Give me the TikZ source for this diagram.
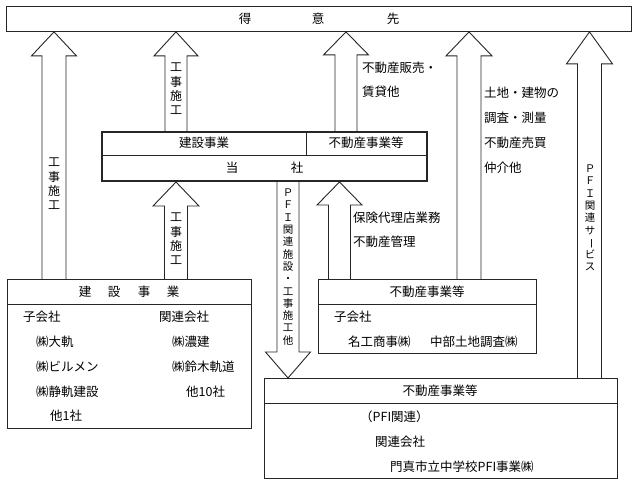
\documentclass[tikz,border=0pt]{standalone}
\usepackage{fontspec}
\setmainfont{Noto Sans CJK JP}
\usepackage{graphicx}
\usetikzlibrary{calc}
\newcommand\UpArr[6]{% xc, lower node, upper node, shaft half, head half, head length
  \draw[arrowshape] let \p1=(#2.north), \p2=(#3.south) in
  ({(#1-#4)*1pt},\y1) -- ({(#1-#4)*1pt},{\y2-#6*1pt}) -- ({(#1-#5)*1pt},{\y2-#6*1pt})
  -- ({#1*1pt},\y2) -- ({(#1+#5)*1pt},{\y2-#6*1pt}) -- ({(#1+#4)*1pt},{\y2-#6*1pt})
  -- ({(#1+#4)*1pt},\y1);}
\newcommand\DnArr[6]{% xc, upper node, lower node, shaft half, head half, head length
  \draw[arrowshape] let \p1=(#2.south), \p2=(#3.north) in
  ({(#1-#4)*1pt},\y1) -- ({(#1-#4)*1pt},{\y2+#6*1pt}) -- ({(#1-#5)*1pt},{\y2+#6*1pt})
  -- ({#1*1pt},\y2) -- ({(#1+#5)*1pt},{\y2+#6*1pt}) -- ({(#1+#4)*1pt},{\y2+#6*1pt})
  -- ({(#1+#4)*1pt},\y1);}
\begin{document}
\begin{tikzpicture}[x=1pt,y=-1pt,
  box/.style={draw=black!85, line width=0.9pt, inner sep=0pt, anchor=north west},
  divline/.style={draw=black!85, line width=0.9pt},
  arrowshape/.style={draw=black!85, line width=0.9pt, line join=miter},
  txt/.style={inner sep=0pt, font=\fontsize{12.5}{15}\selectfont, text height=11pt, text depth=1.5pt},
  lt/.style={txt, anchor=west},
  vlab/.style={inner sep=0pt, align=center, font=\fontsize{12}{14.3}\selectfont},
  vlabs/.style={inner sep=0pt, align=center, font=\fontsize{10.5}{12.3}\selectfont}]
\fill[white] (0,0) rectangle (637,485);
\useasboundingbox (0,0) rectangle (637,485);

% boxes
\node[box, minimum width=625pt, minimum height=25pt] (top) at (6,6) {};
\node[box, line width=2pt, minimum width=325pt, minimum height=49pt] (main) at (101,131) {};
\node[box, minimum width=244pt, minimum height=149pt] (lb) at (7,279) {};
\node[box, minimum width=218pt, minimum height=74pt] (mb) at (318,279) {};
\node[box, minimum width=353pt, minimum height=100pt] (bb) at (264,378) {};

% dividers
\draw[divline] (main.west |- 0,155) -- (main.east |- 0,155);
\draw[divline] (main.north -| 306,0) -- (306,155);
\draw[divline] (lb.west |- 0,304) -- (lb.east |- 0,304);
\draw[divline] (mb.west |- 0,304) -- (mb.east |- 0,304);
\draw[divline] (bb.west |- 0,403) -- (bb.east |- 0,403);

% arrows
\UpArr{54}{lb}{top}{12}{22.5}{24}
\UpArr{176}{main}{top}{11}{22}{24}
\UpArr{346}{main}{top}{11}{22.5}{23}
\UpArr{469}{mb}{top}{12}{23}{24}
\UpArr{589.5}{bb}{top}{12}{23}{32}
\UpArr{176}{lb}{main}{11.5}{23}{24}
\UpArr{339.5}{mb}{main}{11}{22.5}{23}
\DnArr{288}{main}{bb}{11}{22.5}{26}

% top box text
\node[txt] (c1) at (245,18.5) {得};
\node[txt] (c2) at (318,18.5) {意};
\node[txt] (c3) at (393,18.5) {先};

% main box text
\node[txt] (m1) at (204,143) {建設事業};
\node[txt] (m2) at (366,143) {不動産事業等};
\node[txt] (m3) at (232,167.5) {当};
\node[txt] (m4) at (297,167.5) {社};

% arrow labels
\node[vlab] (v1) at (54,184) {工\\事\\施\\工};
\node[vlab] (v2) at (176,89) {工\\事\\施\\工};
\node[vlab] (v3) at (176,239) {工\\事\\施\\工};
\node[vlabs] (v4) at (288,267) {Ｐ\\Ｆ\\Ｉ\\関\\連\\施\\設\\・\\工\\事\\施\\工\\他};
\node[vlabs] (v5) at (590,218) {Ｐ\\Ｆ\\Ｉ\\関\\連\\サ\\\rotatebox[origin=c]{-90}{ー}\\ビ\\ス};

\node[lt] (a3a) at (362,68) {不動産販売・};
\node[lt] (a3b) at (362,92) {賃貸他};
\node[lt] (a4a) at (484,93) {土地・建物の};
\node[lt] (a4b) at (484,118) {調査・測量};
\node[lt] (a4c) at (484,143) {不動産売買};
\node[lt] (a4d) at (484,168) {仲介他};
\node[lt] (a7a) at (353,218) {保険代理店業務};
\node[lt] (a7b) at (353,242) {不動産管理};

% left box text
\node[txt] (h1) at (85,292) {建};
\node[txt] (h2) at (114,292) {設};
\node[txt] (h3) at (144,292) {事};
\node[txt] (h4) at (173,292) {業};
\node[lt] (l1) at (23,317) {子会社};
\node[lt] (l2) at (159,317) {関連会社};
\node[lt] (l3) at (36,342) {㈱大軌};
\node[lt] (l4) at (172,342) {㈱濃建};
\node[lt] (l5) at (36,367) {㈱ビルメン};
\node[lt] (l6) at (172,367) {㈱鈴木軌道};
\node[lt] (l7) at (36,392) {㈱静軌建設};
\node[lt] (l8) at (186,392) {他10社};
\node[lt] (l9) at (50,416) {他1社};

% middle right box text
\node[txt] (r0) at (427,292) {不動産事業等};
\node[lt] (r1) at (334,317) {子会社};
\node[lt] (r2) at (348,342) {名工商事㈱};
\node[lt] (r3) at (430,342) {中部土地調査㈱};

% bottom box text
\node[txt] (b0) at (440,391) {不動産事業等};
\node[lt] (b1) at (360,417) {（PFI関連）};
\node[lt] (b2) at (375,442) {関連会社};
\node[lt] (b3) at (390,467) {門真市立中学校PFI事業㈱};
\end{tikzpicture}
\end{document}
